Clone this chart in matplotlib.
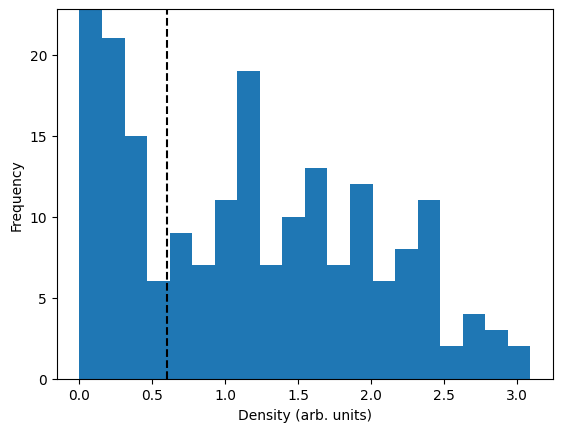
import matplotlib
matplotlib.use("Agg")
import matplotlib.pyplot as plt
import numpy as np

# counts per bin (first bar is clipped by the ylim)
counts = [23, 21, 15, 6, 9, 7, 11, 19, 7, 10, 13, 7, 12, 6, 8, 11, 2, 4, 3, 2]
x_min = 0.0
x_max = 3.09
threshold = 0.6

edges = np.linspace(x_min, x_max, len(counts) + 1)
centers = 0.5 * (edges[:-1] + edges[1:])

fig, ax = plt.subplots(figsize=(6.4, 4.8), dpi=100)
ax.hist(centers, bins=edges, weights=counts)
ax.axvline(threshold, color="k", linestyle="--")
ax.set_ylim(0, 22.8)
ax.set_xlabel("Density (arb. units)")
ax.set_ylabel("Frequency")

fig.savefig("out.png", dpi=100, bbox_inches="tight")
